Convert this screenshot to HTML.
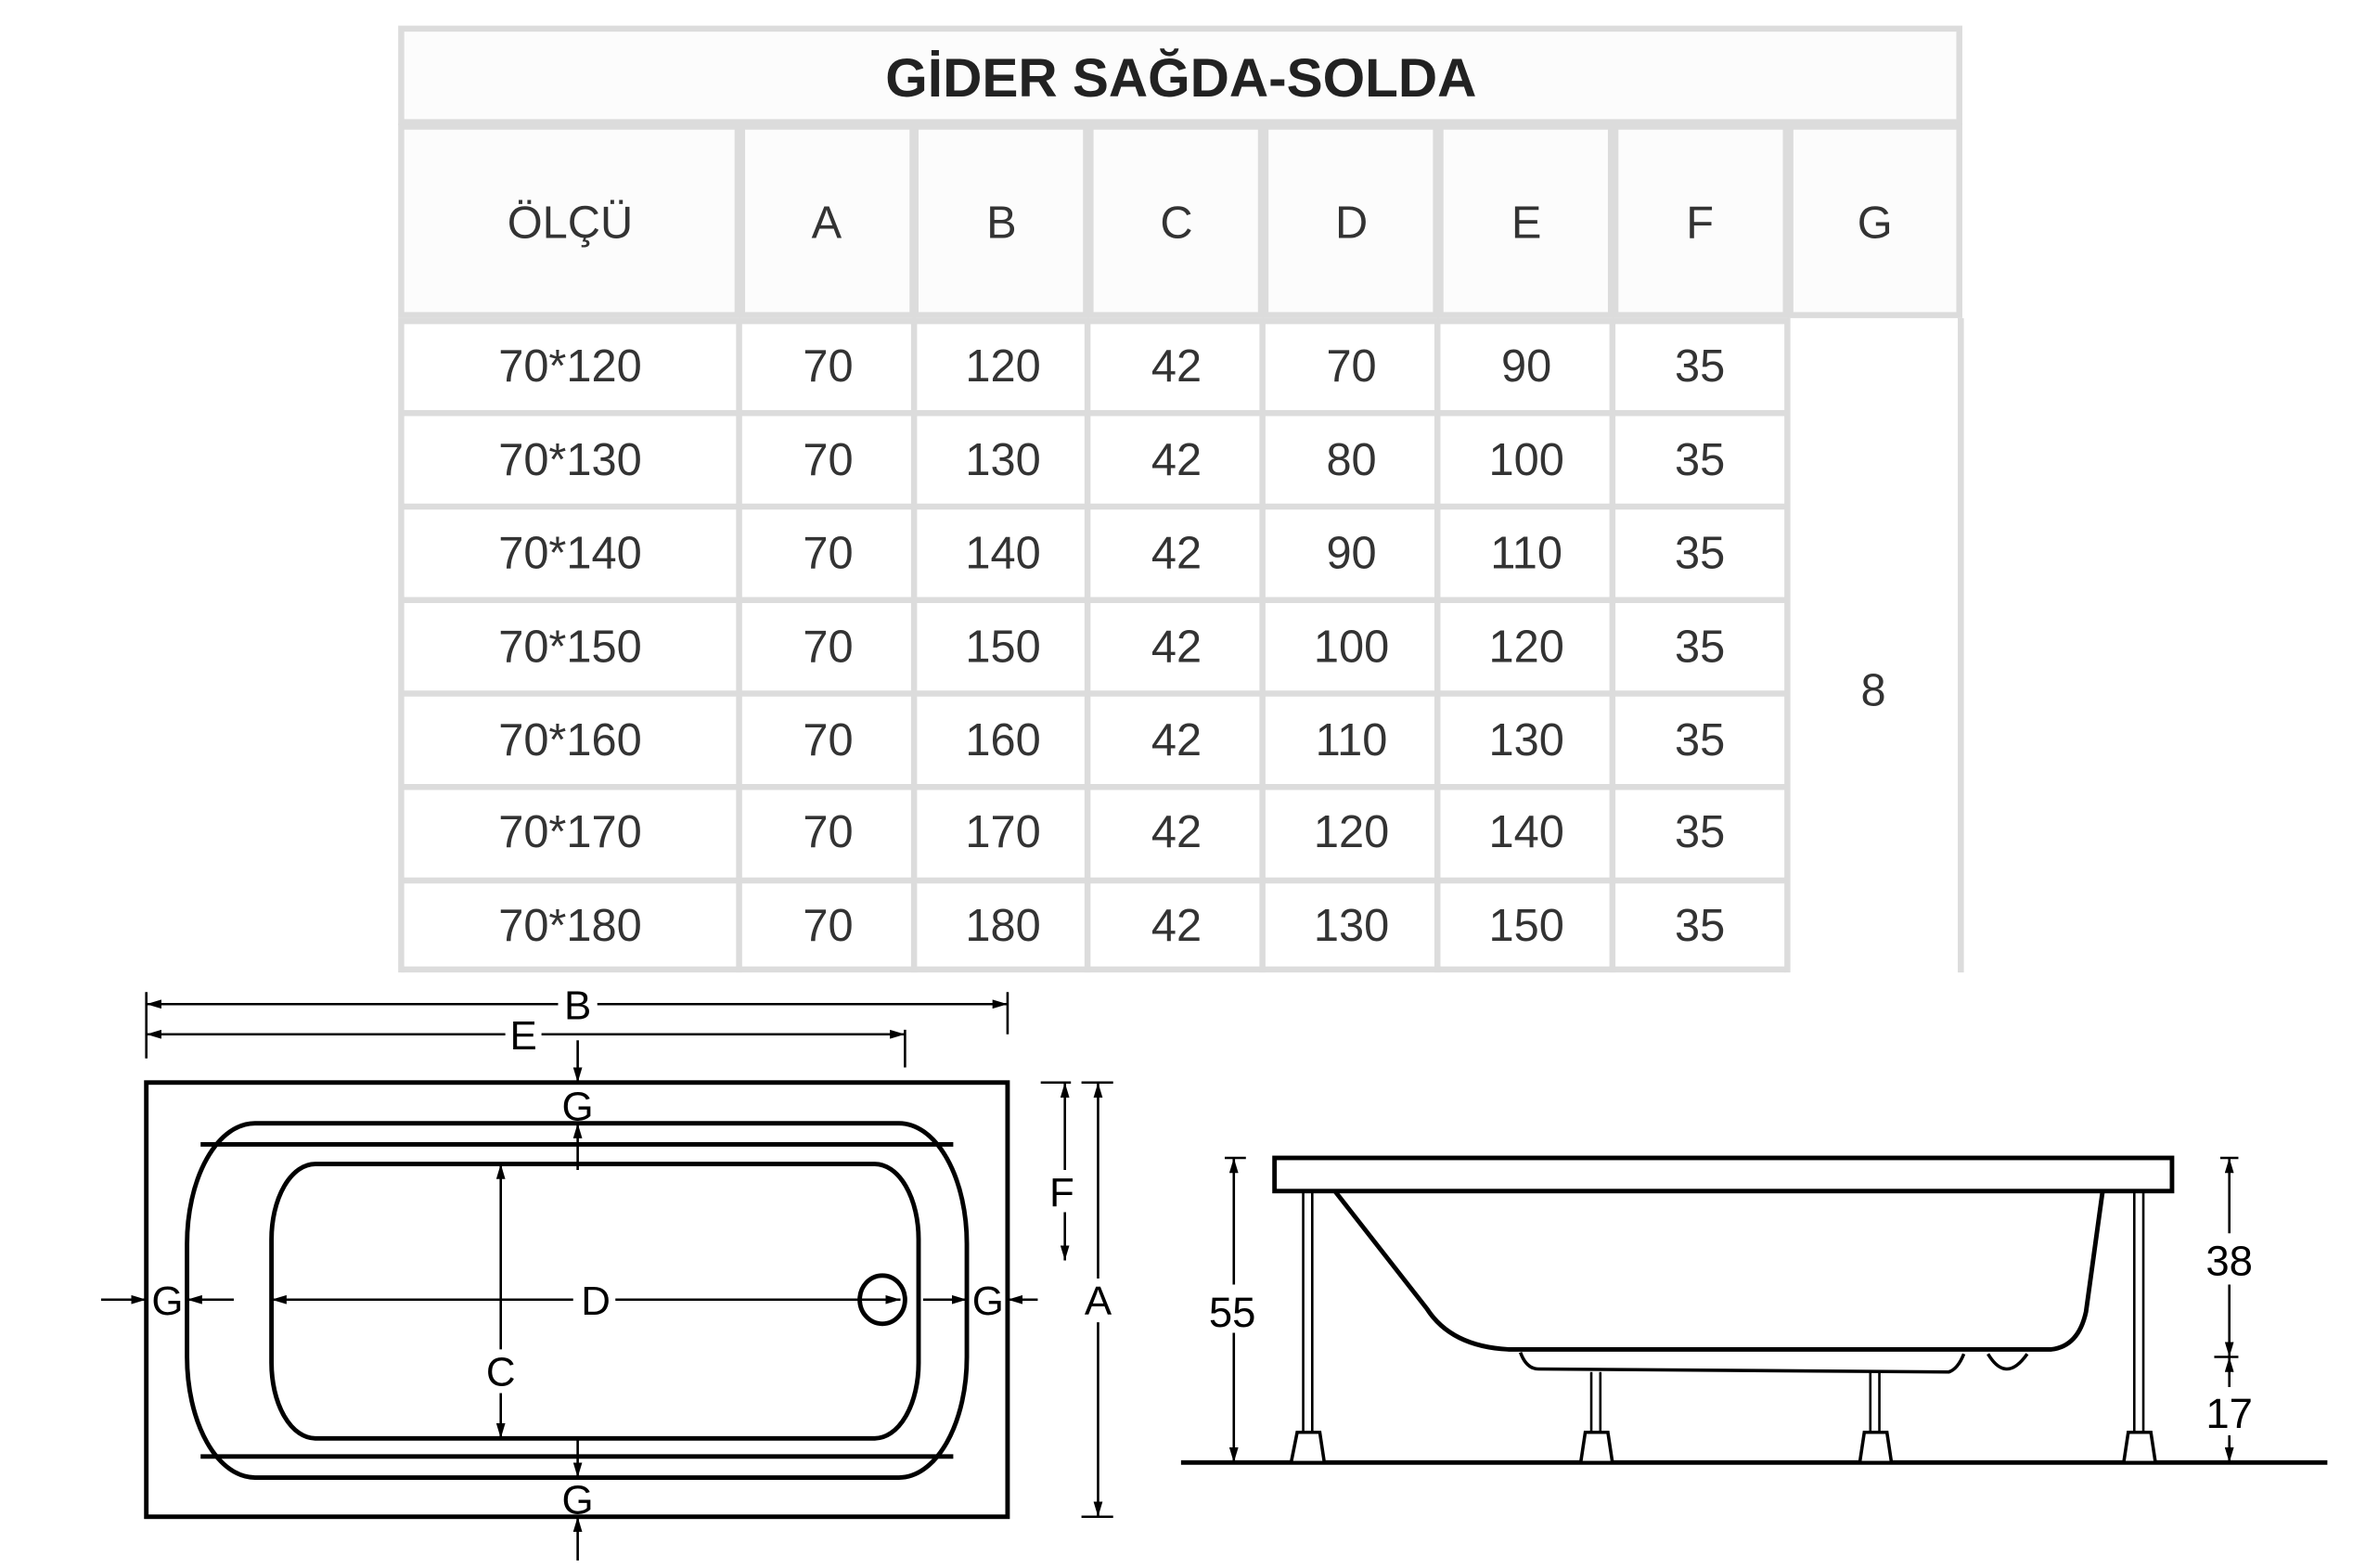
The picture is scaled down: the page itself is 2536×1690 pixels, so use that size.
<!DOCTYPE html>
<html><head><meta charset="utf-8"><style>
html,body{margin:0;padding:0;background:#fff;}
svg{display:block;}
</style></head><body>
<svg width="2536" height="1690" viewBox="0 0 1560 1040" preserveAspectRatio="none" xmlns="http://www.w3.org/2000/svg">
<defs>
<marker id="ah" viewBox="0 0 10 6" refX="10" refY="3" markerWidth="10" markerHeight="6" markerUnits="userSpaceOnUse" orient="auto"><path d="M0,0 L10,3 L0,6 Z" fill="#000"/></marker>
</defs>
<!-- table -->
<g fill="#fcfcfc" stroke="#dcdcdc" stroke-width="4">
<rect x="266" y="19" width="1033" height="62"/>
<rect x="266" y="84" width="223" height="125"/>
<rect x="492" y="84" width="113" height="125"/>
<rect x="607" y="84" width="113" height="125"/>
<rect x="723" y="84" width="113" height="125"/>
<rect x="839" y="84" width="113" height="125"/>
<rect x="955" y="84" width="113" height="125"/>
<rect x="1071" y="84" width="113" height="125"/>
<rect x="1187" y="84" width="112" height="125"/>
</g>
<g fill="#fcfcfc" stroke="#dcdcdc" stroke-width="4">
<path d="M266,213 H1184 M266,274 H1184 M266,336 H1184 M266,398 H1184 M266,460 H1184 M266,522 H1184 M266,584 H1184 M266,643 H1184"/>
<path d="M266,211 V645 M490,211 V645 M606,211 V645 M721,211 V645 M837,211 V645 M953,211 V645 M1069,211 V645 M1185,211 V645 M1300,211 V645" fill="none"/>
</g>
<text x="783" y="64" text-anchor="middle" font-family="Liberation Sans, sans-serif" font-weight="bold" font-size="36" fill="#222">GİDER SAĞDA-SOLDA</text>
<g font-family="Liberation Sans, sans-serif" font-size="30" fill="#333" text-anchor="middle">
<text x="378" y="158">ÖLÇÜ</text><text x="548" y="158">A</text><text x="664" y="158">B</text><text x="780" y="158">C</text><text x="896" y="158">D</text><text x="1012" y="158">E</text><text x="1127" y="158">F</text><text x="1243" y="158">G</text>
<g>
<text x="378" y="253">70*120</text><text x="549" y="253">70</text><text x="665" y="253">120</text><text x="780" y="253">42</text><text x="896" y="253">70</text><text x="1012" y="253">90</text><text x="1127" y="253">35</text>
<text x="378" y="315">70*130</text><text x="549" y="315">70</text><text x="665" y="315">130</text><text x="780" y="315">42</text><text x="896" y="315">80</text><text x="1012" y="315">100</text><text x="1127" y="315">35</text>
<text x="378" y="377">70*140</text><text x="549" y="377">70</text><text x="665" y="377">140</text><text x="780" y="377">42</text><text x="896" y="377">90</text><text x="1012" y="377">110</text><text x="1127" y="377">35</text>
<text x="378" y="439">70*150</text><text x="549" y="439">70</text><text x="665" y="439">150</text><text x="780" y="439">42</text><text x="896" y="439">100</text><text x="1012" y="439">120</text><text x="1127" y="439">35</text>
<text x="378" y="501">70*160</text><text x="549" y="501">70</text><text x="665" y="501">160</text><text x="780" y="501">42</text><text x="896" y="501">110</text><text x="1012" y="501">130</text><text x="1127" y="501">35</text>
<text x="378" y="562">70*170</text><text x="549" y="562">70</text><text x="665" y="562">170</text><text x="780" y="562">42</text><text x="896" y="562">120</text><text x="1012" y="562">140</text><text x="1127" y="562">35</text>
<text x="378" y="624">70*180</text><text x="549" y="624">70</text><text x="665" y="624">180</text><text x="780" y="624">42</text><text x="896" y="624">130</text><text x="1012" y="624">150</text><text x="1127" y="624">35</text>
</g>
<text x="1242" y="468">8</text>
</g>

<!-- plan view -->
<g stroke="#000" fill="none">
<g stroke-width="1.6">
<path d="M97,658 V702 M668,658 V686 M600,683 V708"/>
<path d="M370,666 H97" marker-end="url(#ah)"/><path d="M396,666 H668" marker-end="url(#ah)"/>
<path d="M335,686 H97" marker-end="url(#ah)"/><path d="M359,686 H600" marker-end="url(#ah)"/>
<path d="M383,690 V718" marker-end="url(#ah)"/>
<path d="M383,776 V745" marker-end="url(#ah)"/>
<path d="M383,953 V980" marker-end="url(#ah)"/>
<path d="M383,1035 V1006" marker-end="url(#ah)"/>
<path d="M67,862 H97" marker-end="url(#ah)"/>
<path d="M155,862 H124" marker-end="url(#ah)"/>
<path d="M380,862 H180" marker-end="url(#ah)"/>
<path d="M408,862 H597" marker-end="url(#ah)"/>
<path d="M612,862 H641" marker-end="url(#ah)"/>
<path d="M688,862 H668" marker-end="url(#ah)"/>
<path d="M332,895 V772" marker-end="url(#ah)"/>
<path d="M332,924 V954" marker-end="url(#ah)"/>
<path d="M690,718 H710 M717,718 H738 M717,1006 H738"/>
<path d="M706,776 V718" marker-end="url(#ah)"/><path d="M706,804 V836" marker-end="url(#ah)"/>
<path d="M728,848 V718" marker-end="url(#ah)"/><path d="M728,877 V1006" marker-end="url(#ah)"/>
</g>
<g stroke-width="3">
<rect x="97" y="718" width="571" height="288"/>
<path d="M169,745 H596 A45,80 0 0 1 641,825 V900 A45,80 0 0 1 596,980 H169 A45,80 0 0 1 124,900 V825 A45,80 0 0 1 169,745 Z"/>
<path d="M133,759 H632 M133,966 H632"/>
<path d="M209,772 H580 A29,50 0 0 1 609,822 V904 A29,50 0 0 1 580,954 H209 A29,50 0 0 1 180,904 V822 A29,50 0 0 1 209,772 Z"/>
<ellipse cx="585" cy="862" rx="15" ry="16"/>
</g>
</g>
<g font-family="Liberation Sans, sans-serif" font-size="27" fill="#000" text-anchor="middle">
<text x="383" y="676">B</text><text x="347" y="696">E</text>
<text x="383" y="743">G</text><text x="383" y="1004">G</text>
<text x="111" y="872">G</text><text x="655" y="872">G</text>
<text x="395" y="872">D</text><text x="332" y="919">C</text>
<text x="704" y="800">F</text><text x="728" y="872">A</text>
</g>

<!-- side view -->
<g stroke="#000" fill="none">
<path d="M783,970 H1543" stroke-width="3"/>
<rect x="845" y="768" width="595" height="22" stroke-width="3" fill="#fff"/>
<path d="M885,790 L946,868 Q962,893 1000,895 H1360 Q1378,893 1383,870 L1394,790" stroke-width="3"/>
<path d="M1008,897 Q1012,908 1020,908 L1292,910 Q1298,908 1302,898" stroke-width="2.2"/>
<path d="M1318,898 Q1330,918 1344,898" stroke-width="2.2"/>
<g stroke-width="1.6">
<path d="M864,790 V950 M870,790 V950"/>
<path d="M1055,910 V950 M1061,910 V950"/>
<path d="M1240,910 V950 M1246,910 V950"/>
<path d="M1415,790 V950 M1421,790 V950"/>
</g>
<g stroke-width="2.2" fill="#fff">
<path d="M860,950 H875 L878,970 H856 Z"/>
<path d="M1051,950 H1066 L1069,970 H1048 Z"/>
<path d="M1236,950 H1251 L1254,970 H1233 Z"/>
<path d="M1411,950 H1426 L1429,970 H1408 Z"/>
</g>
<g stroke-width="1.6">
<path d="M812,768 H826 M1472,768 H1484 M1468,900 H1484"/>
<path d="M818,852 V768" marker-end="url(#ah)"/><path d="M818,884 V970" marker-end="url(#ah)"/>
<path d="M1478,818 V768" marker-end="url(#ah)"/><path d="M1478,852 V900" marker-end="url(#ah)"/>
<path d="M1478,920 V900" marker-end="url(#ah)"/><path d="M1478,952 V970" marker-end="url(#ah)"/>
</g>
</g>
<g font-family="Liberation Sans, sans-serif" font-size="28" fill="#000" text-anchor="middle">
<text x="817" y="880">55</text><text x="1478" y="846">38</text><text x="1478" y="947">17</text>
</g>
</svg>
</body></html>
